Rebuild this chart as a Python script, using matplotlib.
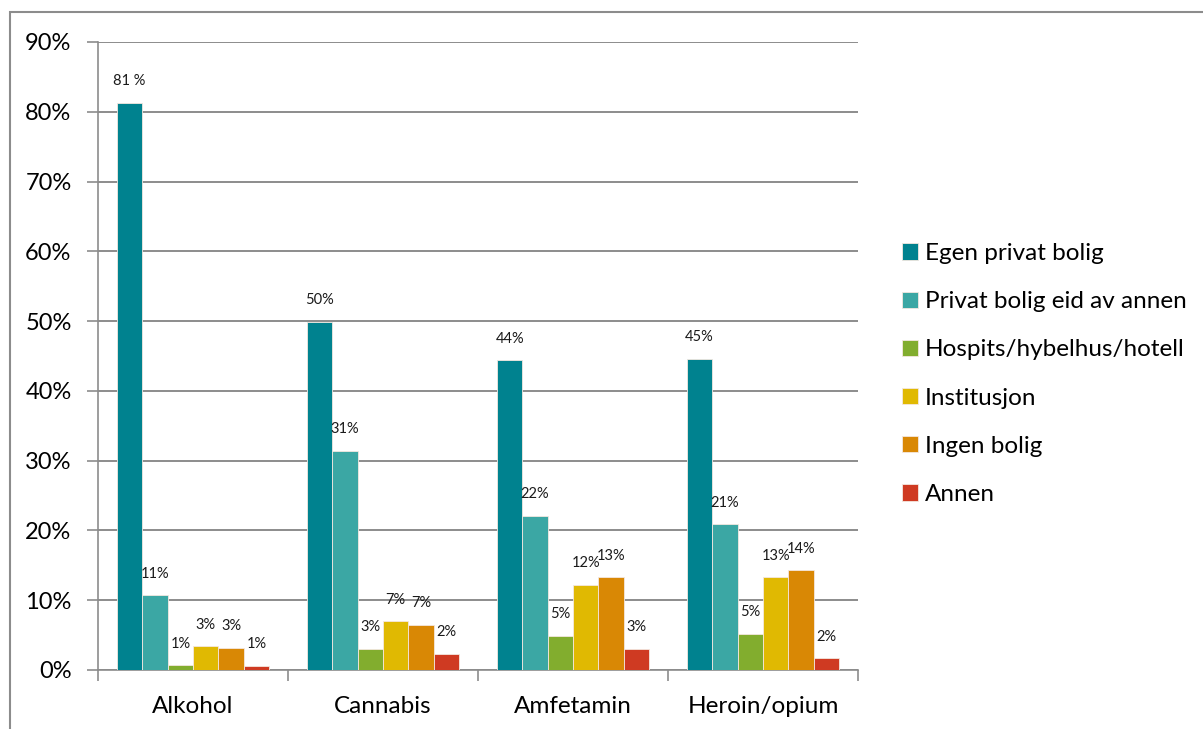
import numpy as np
import matplotlib.pyplot as plt
from matplotlib.patches import Rectangle

plt.rcParams['font.family'] = ['Lato', 'DejaVu Sans']

categories = ['Alkohol', 'Cannabis', 'Amfetamin', 'Heroin/opium']
series = ['Egen privat bolig', 'Privat bolig eid av annen', 'Hospits/hybelhus/hotell',
          'Institusjon', 'Ingen bolig', 'Annen']
colors = ['#00828f', '#3ba7a4', '#82ad2e', '#e0b902', '#d98805', '#cf3a22']

# andel per rusmiddel (prosent)
egen = [81.3, 49.9, 44.4, 44.6]
privat_annen = [10.7, 31.4, 22.1, 20.9]
hospits = [0.7, 3.0, 4.9, 5.2]
institusjon = [3.4, 7.0, 12.2, 13.3]
ingen = [3.2, 6.5, 13.3, 14.3]
annen = [0.6, 2.3, 3.0, 1.7]

labels = [['81 %', '50%', '44%', '45%'],
          ['11%', '31%', '22%', '21%'],
          ['1%', '3%', '5%', '5%'],
          ['3%', '7%', '12%', '13%'],
          ['3%', '7%', '13%', '14%'],
          ['1%', '2%', '3%', '2%']]

values = [egen, privat_annen, hospits, institusjon, ingen, annen]

fig = plt.figure(figsize=(12.03, 7.29), dpi=100)
ax = fig.add_axes([98/1203, 1 - 670/729, 760/1203, 628/729])

x = np.arange(len(categories))
w = 0.8 / 6
for i, (vals, name, col) in enumerate(zip(values, series, colors)):
    pos = x - 0.4 + w * (i + 0.5)
    bars = ax.bar(pos, np.array(vals) / 100, w, color=col, edgecolor='#f4e8e0',
                  linewidth=0.6, label=name, zorder=3)
    for b, txt in zip(bars, labels[i]):
        ax.annotate(txt, (b.get_x() + b.get_width() / 2, b.get_height()),
                    xytext=(0, 10.5), textcoords='offset points',
                    ha='center', va='bottom', fontsize=10.5, color='#1a1a1a')

ax.set_xlim(-0.5, 3.5)
ax.set_ylim(0, 0.9)
ax.set_yticks(np.arange(0, 0.91, 0.1))
ax.set_yticklabels([f'{int(t)}%' for t in range(0, 91, 10)], fontsize=17)
ax.yaxis.grid(True, color='#8c8c8c', linewidth=1.4, zorder=0)
ax.tick_params(axis='y', length=8, width=1.2, color='#8c8c8c', pad=11)

ax.set_xticks(x)
ax.set_xticklabels(categories, fontsize=17.5)
ax.tick_params(axis='x', length=0, pad=19)
ax.set_xticks(np.arange(-0.5, 4, 1), minor=True)
ax.tick_params(axis='x', which='minor', length=8, width=1.2, color='#8c8c8c')

for s in ['top', 'right']:
    ax.spines[s].set_visible(False)
for s in ['left', 'bottom']:
    ax.spines[s].set_color('#8c8c8c')
    ax.spines[s].set_linewidth(1.2)

leg = fig.legend(loc='center left', bbox_to_anchor=(880/1203, 1 - 374/729),
                 frameon=False, fontsize=17.5, handlelength=0.65, handleheight=0.65,
                 handletextpad=0.3, labelspacing=1.12)

# ramme rundt hele diagrammet
fig.patches.append(Rectangle((10/1203, -0.1), 1.2, 1 - 12/729 + 0.1,
                             transform=fig.transFigure, fill=False,
                             edgecolor='#8c8c8c', linewidth=1.5))

fig.savefig('out.png', dpi=100)
